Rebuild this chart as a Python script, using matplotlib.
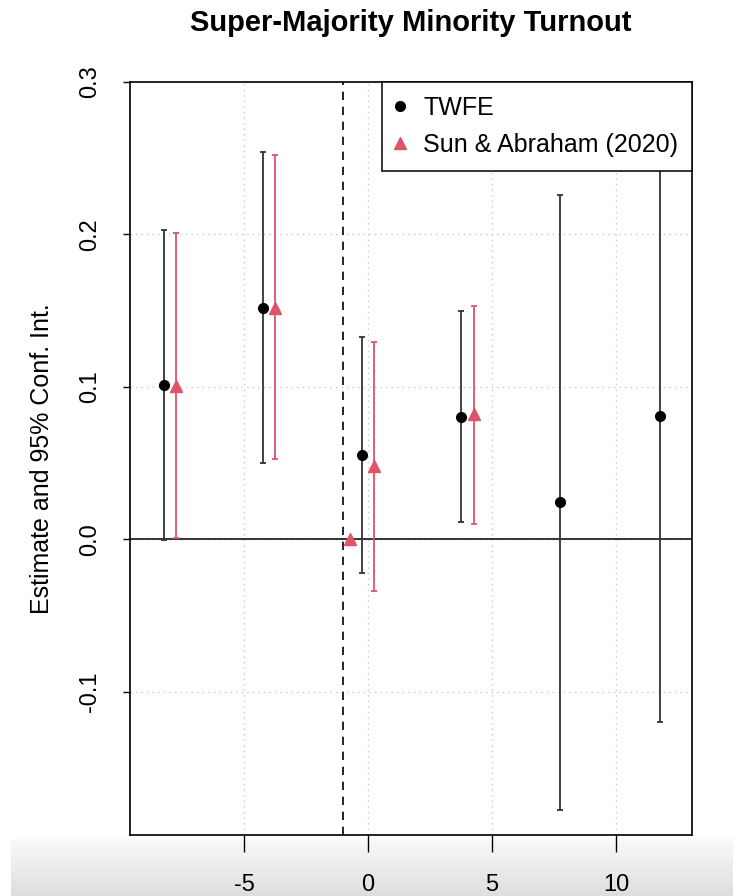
'''
Event-study plot: TWFE vs Sun & Abraham (2020) estimates for
super-majority minority turnout.
'''

import matplotlib
matplotlib.use('Agg')
import matplotlib.pyplot as plt
import numpy as np

plt.rcParams['font.family'] = ['Liberation Sans', 'DejaVu Sans']

# relative periods (ref period -1 only shown for Sun & Abraham)
twfe_x = [-8, -4, 0, 4, 8, 12]
twfe_est = [0.101, 0.152, 0.0555, 0.0805, 0.0242, 0.081]
twfe_lo = [-0.0007, 0.050, -0.0224, 0.0115, -0.1774, -0.120]
twfe_hi = [0.2026, 0.254, 0.133, 0.1495, 0.2259, 0.282]

sa_x = [-8, -4, -1, 0, 4]
sa_est = [0.1007, 0.152, 0.0, 0.048, 0.082]
sa_lo = [0.0007, 0.0526, 0.0, -0.034, 0.0103]
sa_hi = [0.2007, 0.252, 0.0, 0.1296, 0.153]

ref_period = -1
xticks = [-5, 0, 5, 10]
yticks = [-0.1, 0.0, 0.1, 0.2, 0.3]

red = '#DF536B'

fig = plt.figure(figsize=(7.33, 8.96), dpi=100)

# light grey strip at the bottom (screenshot background)
bg = fig.add_axes([0.015, 0.0, 0.985, 0.064], zorder=0)
shade = np.linspace(0.98, 0.87, 60)
grad = np.repeat(shade[:, None, None], 3, axis=2) * np.ones((1, 2, 3))
bg.imshow(grad, aspect='auto', extent=[0, 1, 0, 1])
bg.axis('off')

ax = fig.add_axes([0.1774, 0.0681, 0.7667, 0.8404], zorder=1)

ax.grid(True, color='#c8c8c8', linestyle=(0, (1, 3)), linewidth=1)
ax.set_axisbelow(True)
ax.axhline(0, color='black', linewidth=1.1, zorder=2)
ax.axvline(ref_period, color='black', linestyle=(0, (5, 4)), linewidth=1.2, zorder=2)

tx = np.array(twfe_x) - 0.25
sx = np.array(sa_x) + 0.25
te = np.array(twfe_est)
se = np.array(sa_est)

ax.errorbar(tx, te, yerr=[te - np.array(twfe_lo), np.array(twfe_hi) - te],
            fmt='none', ecolor='#333333', elinewidth=1.3, capsize=2.5, capthick=1.3, zorder=3)
sa_keep = np.array(sa_x) != ref_period
ax.errorbar(sx[sa_keep], se[sa_keep],
            yerr=[(se - np.array(sa_lo))[sa_keep], (np.array(sa_hi) - se)[sa_keep]],
            fmt='none', ecolor=red, elinewidth=1.3, capsize=2.5, capthick=1.3, zorder=3)

ax.plot(tx, te, 'o', color='black', markersize=7, zorder=4, label='TWFE')
ax.plot(sx, se, '^', color=red, markersize=9, zorder=4, label='Sun & Abraham (2020)')

ax.set_xlim(-9.6, 13.06)
ax.set_ylim(-0.194, 0.3)
ax.set_xticks(xticks)
ax.set_xticklabels([f'{v:g}' for v in xticks])
ax.set_yticks(yticks)
ax.set_yticklabels([f'{v:.1f}' for v in yticks], rotation=90, va='center')
ax.tick_params(axis='x', length=12, width=1, labelsize=17, pad=16)
ax.tick_params(axis='y', length=5, width=1, labelsize=17, pad=16)
for spine in ax.spines.values():
    spine.set_linewidth(1.2)

ax.set_ylabel('Estimate and 95% Conf. Int.', fontsize=18, labelpad=18)
ax.set_title('Super-Majority Minority Turnout', fontsize=21, fontweight='bold', pad=37)

leg = ax.legend(loc='upper right', fontsize=18, frameon=True, fancybox=False,
                framealpha=1, borderaxespad=0, handletextpad=0.72, handlelength=0.4,
                borderpad=0.55, labelspacing=0.53)
leg.get_frame().set_edgecolor('black')
leg.get_frame().set_linewidth(1.1)
leg.set_zorder(5)

fig.savefig('out.png', dpi=100)
